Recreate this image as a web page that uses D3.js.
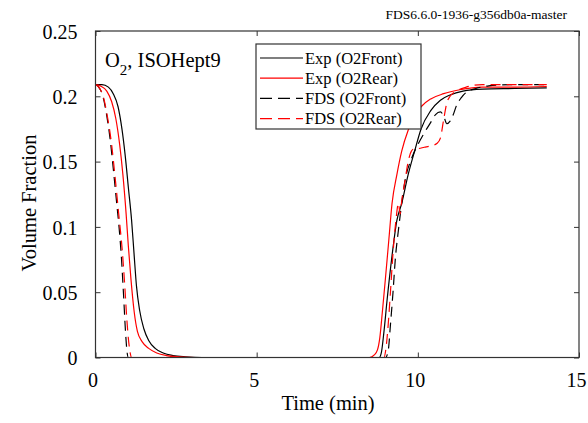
<!DOCTYPE html>
<html>
<head>
<meta charset="utf-8">
<script src="https://cdn.jsdelivr.net/npm/d3@7"></script>
<style>
  body { margin: 0; background: #fff; }
  svg { display: block; }
  text { font-family: "Liberation Serif", "Times New Roman", serif; fill: #000; }
</style>
</head>
<body>
<svg id="chart" width="588" height="423"></svg>
<script>
// ---- Data (time in minutes, volume fraction) ----
const expFrontT = [0,0.2,0.4,0.55,0.7,0.82,0.92,1.02,1.12,1.2,1.27,1.37,1.5,1.65,1.85,2.1,2.4,2.8,3.3,6,8.8,8.87,8.95,9.05,9.2,9.35,9.5,9.7,9.9,10.1,10.4,10.7,11.0,11.4,12.0,13,14];
const expFrontV = [0.209,0.209,0.207,0.202,0.192,0.175,0.155,0.130,0.105,0.078,0.055,0.036,0.022,0.013,0.007,0.0035,0.0015,0.0005,0,0,0,0.004,0.02,0.045,0.078,0.105,0.118,0.140,0.158,0.175,0.189,0.197,0.201,0.204,0.2055,0.206,0.2065];

const expRearT = [0,0.15,0.35,0.5,0.63,0.75,0.85,0.95,1.02,1.1,1.2,1.3,1.45,1.65,1.9,2.2,2.6,3.1,6,8.5,8.65,8.75,8.82,8.9,9.0,9.1,9.2,9.35,9.5,9.7,9.9,10.1,10.4,10.8,11.3,12,13,14];
const expRearV = [0.209,0.208,0.204,0.196,0.183,0.163,0.140,0.110,0.085,0.060,0.035,0.020,0.012,0.007,0.0035,0.0015,0.0005,0,0,0,0.002,0.006,0.015,0.035,0.062,0.09,0.118,0.140,0.158,0.174,0.185,0.192,0.198,0.202,0.205,0.207,0.207,0.2075];

const fdsFrontT = [0,0.1,0.23,0.35,0.45,0.55,0.65,0.73,0.8,0.87,0.93,0.98,1.02,5,9.0,9.08,9.15,9.23,9.3,9.4,9.5,9.6,9.8,10.0,10.2,10.4,10.55,10.7,10.8,10.9,11.0,11.1,11.2,11.35,11.5,11.8,12.2,13,14];
const fdsFrontV = [0.209,0.207,0.200,0.185,0.168,0.145,0.120,0.100,0.078,0.048,0.020,0.004,0,0,0,0.005,0.025,0.05,0.075,0.098,0.118,0.135,0.152,0.163,0.172,0.18,0.186,0.188,0.185,0.179,0.181,0.186,0.193,0.199,0.203,0.206,0.208,0.209,0.209];

const fdsRearT = [0,0.1,0.25,0.38,0.5,0.6,0.72,0.82,0.9,0.97,1.03,1.08,1.12,5,8.95,9.0,9.08,9.15,9.23,9.32,9.4,9.45,9.5,9.6,9.7,9.8,9.9,10.0,10.2,10.4,10.6,10.7,10.8,10.9,11.0,11.2,11.5,12,13,14];
const fdsRearV = [0.209,0.207,0.199,0.183,0.163,0.140,0.110,0.085,0.058,0.030,0.012,0.003,0,0,0,0.005,0.025,0.05,0.08,0.105,0.118,0.11,0.12,0.135,0.15,0.158,0.16,0.16,0.161,0.162,0.164,0.168,0.182,0.195,0.2,0.204,0.207,0.209,0.209,0.209];

const seriesNames = ["Exp (O2Front)", "Exp (O2Rear)", "FDS (O2Front)", "FDS (O2Rear)"];
const xTicks = [0, 5, 10, 15];
const yTicks = [0, 0.05, 0.1, 0.15, 0.2, 0.25];
const yTickLabels = ["0", "0.05", "0.1", "0.15", "0.2", "0.25"];

// ---- Layout ----
const svg = d3.select("#chart");
const L = 95.5, R = 579, T = 31, B = 357.5;
const x = d3.scaleLinear().domain([0, 15]).range([L, R]);
const y = d3.scaleLinear().domain([0, 0.25]).range([B, T]);

const series = [
  {name: seriesNames[0], t: expFrontT, v: expFrontV, color: "#000000", dash: null},
  {name: seriesNames[1], t: expRearT,  v: expRearV,  color: "#ff0000", dash: null},
  {name: seriesNames[2], t: fdsFrontT, v: fdsFrontV, color: "#000000", dash: "10,6"},
  {name: seriesNames[3], t: fdsRearT,  v: fdsRearV,  color: "#ff0000", dash: "10,6"}
];

svg.append("defs").append("clipPath").attr("id", "clip")
  .append("rect").attr("x", L).attr("y", T).attr("width", R - L).attr("height", B - T);

// Lines
const line = d3.line().x(d => x(d[0])).y(d => y(d[1])).curve(d3.curveMonotoneX);
const g = svg.append("g").attr("clip-path", "url(#clip)");
series.forEach(s => {
  const pts = s.t.map((t, i) => [t, s.v[i]]);
  g.append("path").datum(pts)
    .attr("d", line)
    .attr("fill", "none")
    .attr("stroke", s.color)
    .attr("stroke-width", 1.2)
    .attr("stroke-dasharray", s.dash);
});

// Axes (ticks inward, mirrored)
const tickLen = 5;
const axB = d3.axisBottom(x).tickValues(xTicks).tickSizeInner(-tickLen).tickSizeOuter(0).tickFormat(d3.format("d")).tickPadding(15);
const axT = d3.axisTop(x).tickValues(xTicks).tickSizeInner(-tickLen).tickSizeOuter(0).tickFormat("");
const axL = d3.axisLeft(y).tickValues(yTicks).tickSizeInner(-tickLen).tickSizeOuter(0).tickFormat((d, i) => yTickLabels[i]).tickPadding(18);
const axR = d3.axisRight(y).tickValues(yTicks).tickSizeInner(-tickLen).tickSizeOuter(0).tickFormat("");

function styleAxis(sel) {
  sel.select(".domain").remove();
  sel.selectAll("line").attr("stroke", "#333").attr("stroke-width", 1);
  sel.selectAll("text").attr("font-size", 20).attr("font-family", "Liberation Serif, serif").attr("fill", "#000");
}
svg.append("g").attr("transform", `translate(0,${B})`).call(axB).call(styleAxis)
  .selectAll("text").attr("dx", -3);
svg.append("g").attr("transform", `translate(0,${T})`).call(axT).call(styleAxis);
svg.append("g").attr("transform", `translate(${L},0)`).call(axL).call(styleAxis)
  .selectAll("text").attr("dy", "0.36em");
svg.append("g").attr("transform", `translate(${R},0)`).call(axR).call(styleAxis);

// Frame
svg.append("rect").attr("x", L).attr("y", T).attr("width", R - L).attr("height", B - T)
  .attr("fill", "none").attr("stroke", "#333").attr("stroke-width", 1.2);

// Axis titles
svg.append("text").attr("x", 328).attr("y", 410).attr("text-anchor", "middle")
  .attr("font-size", 20.5).text("Time (min)");
svg.append("text").attr("transform", "translate(36,203) rotate(-90)").attr("text-anchor", "middle")
  .attr("font-size", 20.5).text("Volume Fraction");

// Version text
svg.append("text").attr("x", 567).attr("y", 19).attr("text-anchor", "end")
  .attr("font-size", 13.5).text("FDS6.6.0-1936-g356db0a-master");

// Title with subscript
const title = svg.append("text").attr("x", 105).attr("y", 67).attr("font-size", 20.5);
title.append("tspan").text("O");
title.append("tspan").attr("font-size", 15).attr("dy", 8).text("2");
title.append("tspan").attr("dy", -8).text(", ISOHept9");

// Legend
const lg = svg.append("g");
lg.append("rect").attr("x", 256).attr("y", 44).attr("width", 165).attr("height", 85)
  .attr("fill", "#fff").attr("stroke", "#333").attr("stroke-width", 1.2);
series.forEach((s, i) => {
  const yy = 58 + i * 20.2;
  lg.append("line").attr("x1", 260).attr("x2", 303).attr("y1", yy).attr("y2", yy)
    .attr("stroke", s.color).attr("stroke-width", 1.2).attr("stroke-dasharray", s.dash ? "12,6" : null);
  lg.append("text").attr("x", 305).attr("y", yy + 5.5).attr("font-size", 16.5).text(s.name);
});
</script>
</body>
</html>
